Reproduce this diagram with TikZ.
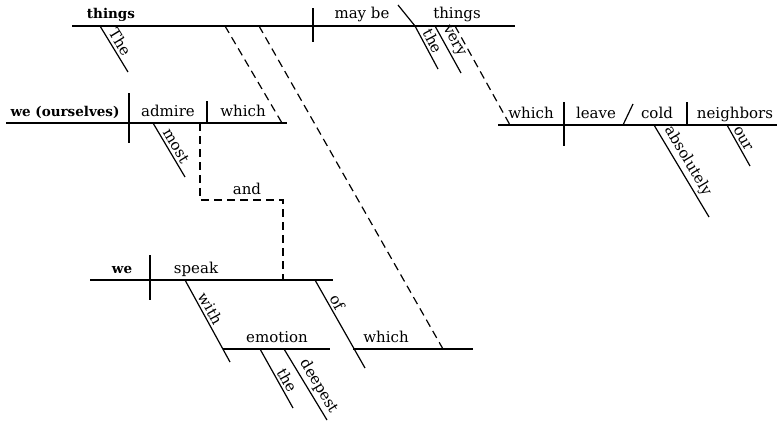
\documentclass[tikz,border=0pt]{standalone}
\usepackage{fontspec}
\setmainfont{DejaVu Serif}
\usepackage{tikz}
\newcommand\wordfont{\fontsize{15}{17}\selectfont}
\newcommand\subjfont{\fontsize{13.5}{16}\selectfont\bfseries}

\begin{document}
\begin{tikzpicture}[x=1pt, y=-1pt,
  rule/.style={line width=1.2pt},
  link/.style={line width=1.2pt, dash pattern=on 8pt off 5pt},
  word/.style={anchor=base, inner sep=0pt, font=\wordfont},
  subj/.style={word, font=\subjfont},
  slant/.style={sloped, above, inner sep=2.5pt, font=\wordfont}
]
\useasboundingbox (0,0) rectangle (777,423);

% main clause: things may be things
\coordinate (top-l) at (72,26); \coordinate (top-r) at (515,26);
\coordinate (top-div-a) at (313,8); \coordinate (top-div-b) at (313,42);
\coordinate (top-pc-a) at (398,5); \coordinate (top-pc-b) at (415,26);
\draw[rule] (top-l) -- (top-r);
\draw[rule] (top-div-a) -- (top-div-b);
\draw[rule] (top-pc-a) -- (top-pc-b);
\node[subj] (w-things) at (111,19) {things};
\node[word] (w-maybe) at (362,19) {may be};
\node[word] (w-things2) at (457,19) {things};
\coordinate (the1-a) at (100,26); \coordinate (the1-b) at (128,72);
\draw[rule] (the1-a) -- node[slant, pos=.45] (w-the1) {The} (the1-b);
\coordinate (the2-a) at (415,26); \coordinate (the2-b) at (438,69);
\draw[rule] (the2-a) -- node[slant, pos=.45] (w-the2) {the} (the2-b);
\coordinate (very-a) at (435,26); \coordinate (very-b) at (461,73);
\draw[rule] (very-a) -- node[slant, pos=.42] (w-very) {very} (very-b);

% which leave cold neighbors
\coordinate (rt-l) at (498,125); \coordinate (rt-r) at (777,125);
\coordinate (rt-div-a) at (564,102); \coordinate (rt-div-b) at (564,146);
\coordinate (rt-oc-a) at (623,125); \coordinate (rt-oc-b) at (633,104);
\coordinate (rt-do-a) at (687,102); \coordinate (rt-do-b) at (687,125);
\draw[rule] (rt-l) -- (rt-r);
\draw[rule] (rt-div-a) -- (rt-div-b);
\draw[rule] (rt-oc-a) -- (rt-oc-b);
\draw[rule] (rt-do-a) -- (rt-do-b);
\node[word] (w-which1) at (531,118) {which};
\node[word] (w-leave) at (596,118) {leave};
\node[word] (w-cold) at (657,118) {cold};
\node[word] (w-neighbors) at (735,118) {neighbors};
\coordinate (abs-a) at (654,125); \coordinate (abs-b) at (709,217);
\draw[rule] (abs-a) -- node[slant, pos=.45] (w-abs) {absolutely} (abs-b);
\coordinate (our-a) at (727,125); \coordinate (our-b) at (750,166);
\draw[rule] (our-a) -- node[slant, pos=.42] (w-our) {our} (our-b);

% we (ourselves) admire which
\coordinate (md-l) at (6,123); \coordinate (md-r) at (287,123);
\coordinate (md-div-a) at (129,93); \coordinate (md-div-b) at (129,143);
\coordinate (md-do-a) at (207,101); \coordinate (md-do-b) at (207,123);
\draw[rule] (md-l) -- (md-r);
\draw[rule] (md-div-a) -- (md-div-b);
\draw[rule] (md-do-a) -- (md-do-b);
\node[subj] (w-we1) at (65,116) {we (ourselves)};
\node[word] (w-admire) at (168,116) {admire};
\node[word] (w-which2) at (243,116) {which};
\coordinate (most-a) at (153,123); \coordinate (most-b) at (185,177);
\draw[rule] (most-a) -- node[slant, pos=.5] (w-most) {most} (most-b);

% we speak with emotion of which
\coordinate (bt-l) at (90,280); \coordinate (bt-r) at (333,280);
\coordinate (bt-div-a) at (150,255); \coordinate (bt-div-b) at (150,300);
\draw[rule] (bt-l) -- (bt-r);
\draw[rule] (bt-div-a) -- (bt-div-b);
\node[subj] (w-we2) at (122,273) {we};
\node[word] (w-speak) at (196,273) {speak};
\coordinate (with-a) at (185,280); \coordinate (with-b) at (230,362);
\draw[rule] (with-a) -- node[slant, pos=.4] (w-with) {with} (with-b);
\coordinate (emo-l) at (223,349); \coordinate (emo-r) at (330,349);
\draw[rule] (emo-l) -- (emo-r);
\node[word] (w-emotion) at (277,342) {emotion};
\coordinate (the3-a) at (260,349); \coordinate (the3-b) at (293,408);
\draw[rule] (the3-a) -- node[slant, pos=.6] (w-the3) {the} (the3-b);
\coordinate (deep-a) at (284,349); \coordinate (deep-b) at (327,420);
\draw[rule] (deep-a) -- node[slant, pos=.6] (w-deepest) {deepest} (deep-b);
\coordinate (of-a) at (315,280); \coordinate (of-b) at (365,368);
\draw[rule] (of-a) -- node[slant, pos=.3] (w-of) {of} (of-b);
\coordinate (wh-l) at (353,349); \coordinate (wh-r) at (473,349);
\draw[rule] (wh-l) -- (wh-r);
\node[word] (w-which3) at (386,342) {which};

% relative links and the conjunction
\coordinate (rel1-a) at (225,26); \coordinate (rel1-b) at (282,123);
\coordinate (rel2-a) at (259,26); \coordinate (rel2-b) at (443,349);
\coordinate (rel3-a) at (455,26); \coordinate (rel3-b) at (510,125);
\draw[link] (rel1-a) -- (rel1-b);
\draw[link] (rel2-a) -- (rel2-b);
\draw[link] (rel3-a) -- (rel3-b);
\coordinate (and-a) at (200,123); \coordinate (and-c) at (283,200);
\coordinate (and-b) at (283,280);
\draw[link] (and-a) |- (and-c) -- (and-b);
\node[word] (w-and) at (247,194) {and};
\end{tikzpicture}
\end{document}
